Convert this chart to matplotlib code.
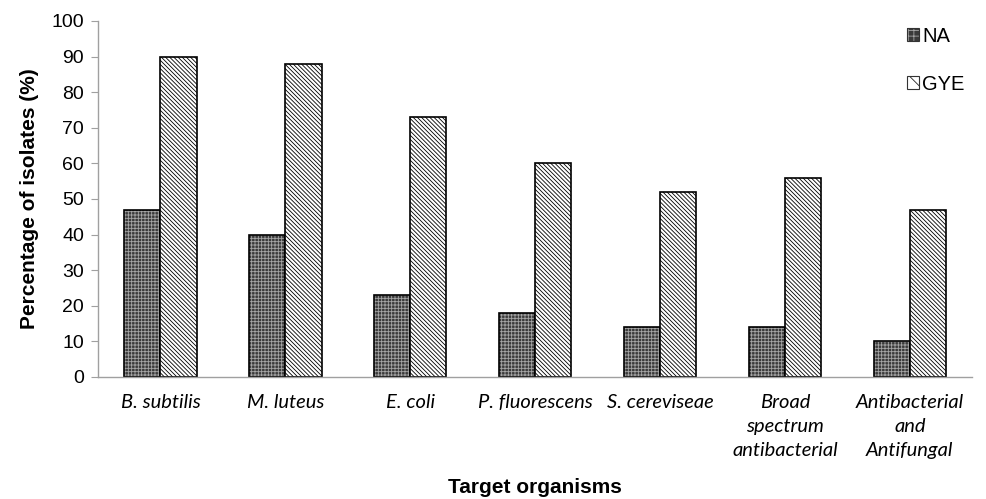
import numpy as np
import matplotlib.pyplot as plt
from matplotlib.patches import Patch

# data
organisms = ['B. subtilis', 'M. luteus', 'E. coli', 'P. fluorescens', 'S. cereviseae',
             'Broad\nspectrum\nantibacterial', 'Antibacterial\nand\nAntifungal']
na_vals = [47, 40, 23, 18, 14, 14, 10]
gye_vals = [90, 88, 73, 60, 52, 56, 47]

plt.rcParams['hatch.linewidth'] = 0.6
plt.rcParams['font.family'] = ['Liberation Sans', 'DejaVu Sans']

fig = plt.figure(figsize=(9.86, 4.99), dpi=100)
ax = fig.add_axes([0.0994, 0.2445, 0.8866, 0.7135])

x = np.arange(len(organisms))
w = 0.29

# NA bars: dark grey face with light dotted grid
ax.bar(x - w/2, na_vals, w, color='#3a3a3a', edgecolor='#a6a6a6', hatch='+++++', linewidth=0)
ax.bar(x - w/2, na_vals, w, fill=False, edgecolor='black', linewidth=1.2)
# GYE bars: white with dense diagonal lines
ax.bar(x + w/2, gye_vals, w, color='white', edgecolor='black', hatch='\\' * 8, linewidth=0)
ax.bar(x + w/2, gye_vals, w, fill=False, edgecolor='black', linewidth=1.2)

# legend proxies (fill + outline overlaid)
outline = Patch(fill=False, edgecolor='#333333', linewidth=0.8)
h_na = (Patch(facecolor='#3a3a3a', edgecolor='#a6a6a6', hatch='+++', linewidth=0), outline)
h_gye = (Patch(facecolor='white', edgecolor='#222222', hatch='\\\\', linewidth=0), outline)
ax.legend([h_na, h_gye], ['NA', 'GYE'], loc='upper right', bbox_to_anchor=(1.012, 1.035),
          frameon=False, fontsize=14.5, handlelength=0.6, handleheight=0.6,
          handletextpad=0.15, labelspacing=1.45)

ax.set_xlim(-0.5, len(organisms) - 0.5)
ax.set_ylim(0, 100)
ax.set_yticks(np.arange(0, 101, 10))
ax.set_xticks(x)
ax.set_xticklabels(organisms, fontsize=14.5, style='italic', family=['Lato', 'DejaVu Sans'],
                   linespacing=1.5)
ax.tick_params(axis='x', length=0, pad=12)
ax.tick_params(axis='y', labelsize=14, length=5, color='#a0a0a0', pad=5)

for s in ['top', 'right']:
    ax.spines[s].set_visible(False)
for s in ['left', 'bottom']:
    ax.spines[s].set_color('#a0a0a0')
    ax.spines[s].set_linewidth(1.0)

ax.set_ylabel('Percentage of isolates (%)', fontsize=15, fontweight='bold', labelpad=9)
fig.text(0.543, 0.024, 'Target organisms', ha='center', va='center',
         fontsize=15, fontweight='bold')

fig.savefig('out.png', dpi=100)
